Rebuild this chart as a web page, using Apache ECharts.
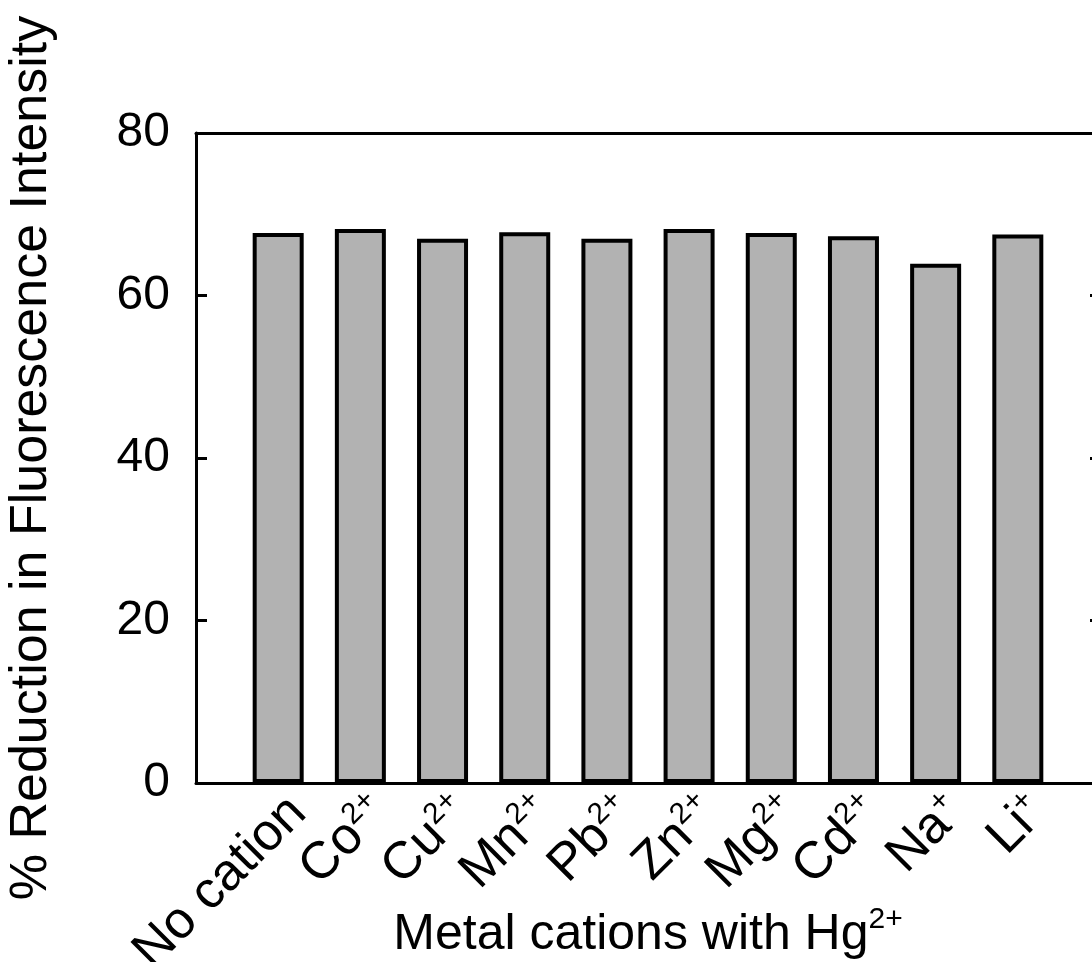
<!DOCTYPE html>
<html>
<head>
<meta charset="utf-8">
<script src="https://cdn.jsdelivr.net/npm/echarts@6/dist/echarts.min.js"></script>
<style>
html,body{margin:0;padding:0;background:#fff;overflow:hidden;}
#c{width:1110px;height:962px;}
</style>
</head>
<body>
<div id="c"></div>
<script>
// Data
var categories = ['No cation', 'Co', 'Cu', 'Mn', 'Pb', 'Zn', 'Mg', 'Cd', 'Na', 'Li'];
var charges = ['', '2+', '2+', '2+', '2+', '2+', '2+', '2+', '+', '+'];
var values = [67.7, 68.2, 67.0, 67.8, 67.0, 68.2, 67.7, 67.3, 63.9, 67.5];
var yTicks = [0, 20, 40, 60, 80];

var FONT = '"Liberation Sans", Arial, sans-serif';
var chart = echarts.init(document.getElementById('c'));

var barData = values.map(function (v, i) { return [i + 1, v]; });

chart.setOption({
  animation: false,
  backgroundColor: '#fff',
  grid: { left: 196, top: 133, width: 904, height: 650, outerBoundsMode: 'none', containLabel: false },
  xAxis: [{
    type: 'value', min: 0, max: 11, interval: 1, position: 'bottom',
    axisLine: { show: true, onZero: false, lineStyle: { color: '#000', width: 3 } },
    axisTick: { show: false },
    splitLine: { show: false },
    axisLabel: {
      rotate: 45, margin: 2, color: '#000', fontFamily: FONT, fontSize: 52,
      align: 'right', verticalAlign: 'top',
      formatter: function (v) {
        var i = Math.round(v) - 1;
        if (i < 0 || i >= categories.length) return '';
        return charges[i] ? '{b|' + categories[i] + '}{s|' + charges[i] + '}' : '{b|' + categories[i] + '}';
      },
      rich: {
        b: { fontSize: 52, fontFamily: FONT, color: '#000', lineHeight: 56 },
        s: { fontSize: 30, fontFamily: FONT, color: '#000', lineHeight: 30, verticalAlign: 'top' }
      }
    },
    name: '{b|Metal cations with Hg}{s|2+}',
    nameLocation: 'middle', nameGap: 122, nameMoveOverlap: false,
    nameTextStyle: {
      rich: {
        b: { fontSize: 50, fontFamily: FONT, color: '#000', lineHeight: 60 },
        s: { fontSize: 30, fontFamily: FONT, color: '#000', lineHeight: 30, verticalAlign: 'top' }
      }
    }
  }, {
    type: 'value', min: 0, max: 11, interval: 1, position: 'top',
    axisLine: { show: true, onZero: false, lineStyle: { color: '#000', width: 3 } },
    axisTick: { show: false }, axisLabel: { show: false }, splitLine: { show: false }
  }],
  yAxis: [{
    type: 'value', min: 0, max: 80, interval: 20, position: 'left',
    axisLine: { show: true, onZero: false, lineStyle: { color: '#000', width: 3 } },
    axisTick: { show: true, inside: true, length: 11, lineStyle: { color: '#000', width: 3 } },
    splitLine: { show: false },
    axisLabel: { color: '#000', fontFamily: FONT, fontSize: 48, margin: 26 },
    name: '% Reduction in Fluorescence Intensity',
    nameLocation: 'middle', nameGap: 138, nameRotate: 90, nameMoveOverlap: false,
    nameTextStyle: { color: '#000', fontFamily: FONT, fontSize: 52 }
  }, {
    type: 'value', min: 0, max: 80, interval: 20, position: 'right',
    axisLine: { show: true, onZero: false, lineStyle: { color: '#000', width: 3 } },
    axisTick: { show: true, inside: true, length: 10, lineStyle: { color: '#000', width: 3 } },
    splitLine: { show: false }, axisLabel: { show: false }
  }],
  series: [{
    type: 'bar', xAxisIndex: 0, yAxisIndex: 0,
    data: barData, barWidth: 51,
    itemStyle: { color: '#b2b2b2', borderColor: '#000', borderWidth: 4 }
  }]
});
</script>
</body>
</html>
